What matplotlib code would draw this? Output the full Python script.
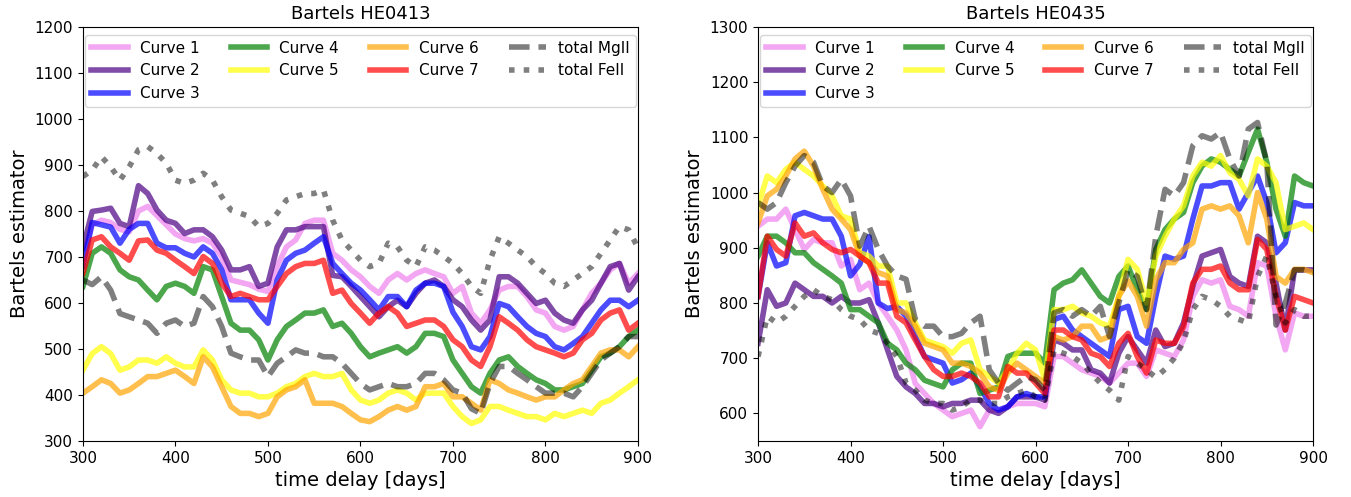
import numpy as np
import matplotlib
matplotlib.use("Agg")
import matplotlib.pyplot as plt

days = list(range(300, 901, 10))

# ---------------- HE0413 (left panel) ----------------
L_c1 = [700,770,780,775,760,755,800,810,790,770,750,740,735,740,730,700,650,645,640,630,625,
        680,722,737,773,780,780,708,693,672,657,636,621,650,664,650,664,672,664,657,621,
        636,578,556,585,628,636,636,614,585,578,549,541,549,585,621,643,672,686,643,664]
L_c2 = [720,799,802,806,773,766,855,838,802,780,773,751,759,759,744,715,672,672,679,636,643,
        722,759,759,766,766,766,660,657,636,614,592,570,592,606,592,621,643,650,636,607,
        592,563,541,563,657,657,643,621,599,606,578,563,556,585,606,643,679,686,628,657]
L_c3 = [680,775,770,765,730,760,773,773,730,720,720,708,700,722,708,672,607,607,607,578,556,
        650,693,708,715,730,744,686,664,643,628,607,585,614,614,592,628,643,643,636,580,
        549,505,498,527,599,592,570,549,534,527,505,498,512,527,556,585,606,606,592,606]
L_c4 = [636,708,722,708,672,657,650,628,607,636,643,636,621,679,672,614,556,541,541,520,476,
        520,549,563,578,578,585,549,556,534,505,483,491,498,505,491,505,534,534,527,476,
        447,418,404,447,476,483,462,447,433,425,411,411,418,425,454,483,491,505,527,541]
L_c5 = [454,490,505,490,454,461,476,476,469,483,469,461,461,498,476,433,411,404,404,396,396,
        404,418,425,440,447,440,440,447,411,389,382,389,404,411,404,389,404,404,404,375,
        353,338,346,375,375,367,360,353,353,346,360,353,360,367,360,382,389,404,418,433]
L_c6 = [404,418,433,425,404,411,425,440,440,447,454,440,425,483,461,418,375,360,360,353,360,
        396,411,418,433,382,382,382,375,360,346,342,353,367,375,367,375,418,418,425,396,
        396,382,367,433,425,411,404,396,389,396,396,411,425,433,462,491,498,498,483,505]
L_c7 = [665,737,744,722,708,693,735,737,715,708,693,679,664,701,686,643,614,621,614,607,607,
        636,664,679,686,686,693,621,628,599,578,556,578,592,578,549,556,563,563,549,520,
        505,476,462,505,570,556,541,520,505,498,491,483,491,520,534,563,578,585,541,556]
L_mg = [650,640,657,628,577,570,563,556,534,556,563,549,556,614,592,549,491,483,476,476,440,
        469,483,498,491,491,483,483,469,447,425,411,418,425,418,418,425,447,447,433,411,
        404,370,360,425,462,462,447,433,418,404,404,404,396,418,447,476,491,505,527,527]
L_fe = [875,889,918,896,867,896,933,940,925,904,867,860,867,882,867,831,802,795,788,766,773,
        795,824,831,838,838,846,780,737,715,693,679,686,730,722,693,679,722,715,701,686,
        664,636,621,693,744,730,715,701,679,664,643,636,650,664,679,708,737,766,759,720]

# ---------------- HE0435 (right panel) ----------------
R_c1 = [939,952,952,970,933,897,915,909,909,867,879,824,836,800,776,751,715,654,636,618,606,
        594,600,606,576,606,606,612,618,618,618,612,703,703,691,679,673,667,655,673,691,
        691,667,715,709,703,733,812,842,836,842,794,788,776,873,867,776,715,782,776,776]
R_c2 = [727,824,794,800,836,824,812,812,800,812,800,800,806,764,715,667,648,636,618,618,612,
        618,618,624,624,606,600,612,630,630,630,624,733,727,715,715,679,673,655,709,739,
        715,691,751,721,727,764,830,885,891,897,848,836,830,921,909,836,751,860,860,860]
R_c3 = [812,909,867,873,958,964,958,952,952,921,849,870,920,800,790,794,776,739,703,697,691,
        655,661,673,648,618,606,612,630,636,630,630,770,776,751,739,727,715,703,788,794,
        739,727,812,885,879,885,952,1012,1012,1018,1018,970,1000,1030,982,891,909,982,976,976]
R_c4 = [885,921,921,909,891,891,873,861,849,836,788,788,776,764,727,715,691,679,660,654,648,
        679,691,691,636,642,648,703,709,709,709,691,824,836,842,860,836,812,800,848,867,
        824,788,897,933,952,964,1018,1048,1061,1055,1042,1030,1073,1115,1055,970,921,1030,1018,1012]
R_c5 = [976,1030,1018,1042,1055,1042,1030,1012,994,958,952,891,885,867,867,800,800,764,733,727,721,
        709,727,733,679,667,655,679,709,727,715,661,788,788,794,782,776,764,758,812,879,
        861,800,885,921,952,976,1030,1055,1048,1067,1036,1024,994,1061,1048,1018,933,939,945,933]
R_c6 = [945,994,1006,1030,1061,1075,1048,1006,970,952,933,885,873,855,849,788,782,758,727,721,715,
        691,691,685,673,648,642,673,691,679,667,655,739,733,739,758,758,733,739,812,840,
        812,758,842,873,873,897,909,970,976,970,976,958,909,1000,952,848,836,861,861,855]
R_c7 = [812,921,897,885,945,921,927,909,897,891,897,885,873,836,836,776,764,733,703,679,667,
        667,673,667,655,630,630,685,673,673,655,636,751,751,739,733,709,703,685,727,745,
        703,673,733,727,727,757,836,861,861,867,836,824,824,915,897,812,751,812,806,800]
R_mg = [982,970,982,1018,1048,1067,1055,1012,1000,1024,994,903,939,897,867,849,843,770,758,758,739,
        739,745,764,776,679,655,642,655,667,661,642,782,788,776,788,776,794,739,800,860,
        848,788,921,1006,994,1018,1085,1103,1097,1109,1061,1030,1115,1127,1055,760,800,860,860,855]
R_fe = [703,776,764,776,794,812,824,812,806,788,776,770,751,745,727,703,655,642,624,618,618,
        606,612,624,624,618,618,630,636,642,630,624,715,709,703,691,673,655,642,624,703,
        691,679,665,680,700,730,788,812,806,794,776,770,764,848,885,812,764,788,776,776]

labels = ["Curve 1", "Curve 2", "Curve 3", "Curve 4", "Curve 5", "Curve 6", "Curve 7",
          "total MgII", "total FeII"]
colors = ["violet", "indigo", "blue", "green", "yellow", "orange", "red", "black", "black"]

panels = [
    ("Bartels HE0413", [L_c1, L_c2, L_c3, L_c4, L_c5, L_c6, L_c7, L_mg, L_fe], (300, 1200),
     [0.0614, 0.1127, 0.4108, 0.833]),
    ("Bartels HE0435", [R_c1, R_c2, R_c3, R_c4, R_c5, R_c6, R_c7, R_mg, R_fe], (550, 1300),
     [0.5611, 0.1127, 0.4108, 0.833]),
]

fig = plt.figure(figsize=(13.51, 4.97), dpi=100)
for title, series, ylim, rect in panels:
    ax = fig.add_axes(rect)
    for i, (lab, col, vals) in enumerate(zip(labels, colors, series)):
        if i < 7:
            ax.plot(days, vals, color=col, lw=4, alpha=0.7, label=lab)
        elif i == 7:
            ax.plot(days, vals, color=col, lw=4, alpha=0.5, ls="--", label=lab)
        else:
            ax.plot(days, vals, color=col, lw=4, alpha=0.5, ls=":", label=lab)
    ax.set_xlim(300, 900)
    ax.set_ylim(*ylim)
    ax.set_title(title, fontsize=13)
    ax.set_xlabel("time delay [days]", fontsize=14)
    ax.set_ylabel("Bartels estimator", fontsize=14)
    ax.tick_params(labelsize=11)
    ax.legend(loc="upper center", ncol=4, fontsize=11, handlelength=2.4)

fig.savefig("out.png", dpi=100)
